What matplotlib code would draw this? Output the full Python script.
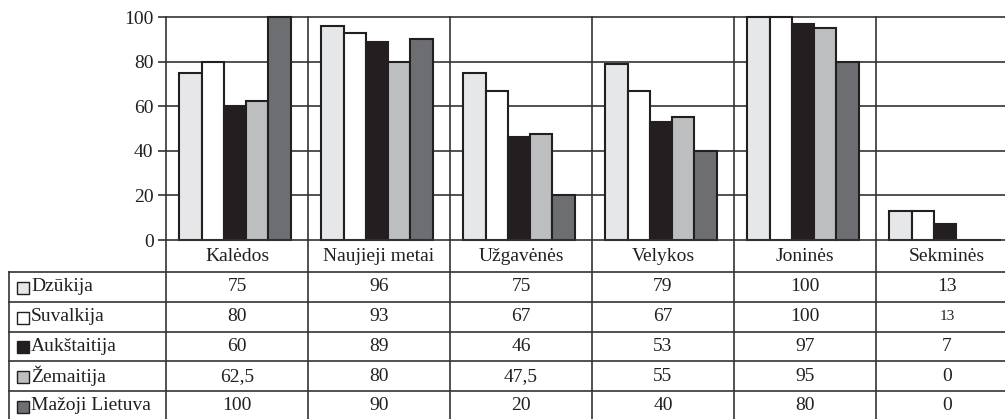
import matplotlib
matplotlib.use("Agg")
import matplotlib.pyplot as plt
from matplotlib.patches import Rectangle
import numpy as np

# ---- data ----
categories = ["Kalėdos", "Naujieji metai", "Užgavėnės", "Velykos", "Joninės", "Sekminės"]
regions = ["Dzūkija", "Suvalkija", "Aukštaitija", "Žemaitija", "Mažoji Lietuva"]
dzukija = [75, 96, 75, 79, 100, 13]
suvalkija = [80, 93, 67, 67, 100, 13]
aukstaitija = [60, 89, 46, 53, 97, 7]
zemaitija = [62.5, 80, 47.5, 55, 95, 0]
mazoji_lietuva = [100, 90, 20, 40, 80, 0]
series = [dzukija, suvalkija, aukstaitija, zemaitija, mazoji_lietuva]
yticks = [0, 20, 40, 60, 80, 100]

# ---- style ----
colors = ["#e6e7e8", "#ffffff", "#231f20", "#bcbec0", "#6d6e71"]
line_c = "#333333"
text_c = "#231f20"
FONT = "Liberation Serif"
FS = 14
plt.rcParams["font.family"] = [FONT, "DejaVu Serif"]

W, H = 1005, 419
fig = plt.figure(figsize=(W / 100, H / 100), dpi=100)

# bar axes: x 166..1018 px, y 17..240 px
ax = fig.add_axes([166 / W, 1 - 240 / H, 852 / W, 223 / H])
ax.set_xlim(-0.5, 5.5)
ax.set_ylim(0, 100)

x = np.arange(len(categories))
bw = 0.157
shift = -0.014
for j, vals in enumerate(series):
    ax.bar(x + (j - 2) * bw + shift, vals, width=bw, color=colors[j],
           edgecolor="#231f20", linewidth=1.5, zorder=3, clip_on=False)

for yv in yticks[1:]:
    ax.axhline(yv, color=line_c, lw=1.2, zorder=1, clip_on=False)
for i in range(len(categories) - 1):
    ax.axvline(i + 0.5, color=line_c, lw=1.2, zorder=1, clip_on=False)

for s in ["top", "right"]:
    ax.spines[s].set_visible(False)
ax.spines["left"].set_color(line_c)
ax.spines["left"].set_linewidth(1.2)
ax.spines["bottom"].set_color(line_c)
ax.spines["bottom"].set_linewidth(1.2)
ax.spines["bottom"].set_zorder(4)
ax.set_xticks([])
ax.set_yticks(yticks)
ax.set_yticklabels([str(v) for v in yticks], fontsize=FS, color=text_c)
ax.tick_params(axis="y", direction="out", length=6, width=1.2, color=line_c, pad=3)

# table axes: x 9..1018 px, y 240..420 px (y in pixel units)
left_px = 9
x_left = -0.5 - (166 - left_px) / 142.0
tax = fig.add_axes([left_px / W, 1 - 420 / H, (1018 - left_px) / W, 180 / H])
tax.set_xlim(x_left, 5.5)
tax.set_ylim(420, 240)
tax.axis("off")

def px2x(px):
    return x_left + (px - left_px) / 142.0

row_edges = [272, 301.7, 331.5, 361.2, 391, 420.5]

# header labels
for i, c in enumerate(categories):
    tax.text(i, 256, c, ha="center", va="center", fontsize=FS, color=text_c)

# lines
for ye in row_edges:
    tax.plot([x_left, 5.5], [ye, ye], color=line_c, lw=1.2, clip_on=False)
tax.plot([x_left, x_left], [row_edges[0], 421], color=line_c, lw=1.2, clip_on=False)
tax.plot([-0.5, -0.5], [240, 421], color=line_c, lw=1.2, clip_on=False)
for i in range(len(categories) - 1):
    tax.plot([i + 0.5, i + 0.5], [240, 421], color=line_c, lw=1.2, clip_on=False)

# rows
sq = 12
for r, (name, vals) in enumerate(zip(regions, series)):
    yc = (row_edges[r] + row_edges[r + 1]) / 2
    tax.add_patch(Rectangle((px2x(16.5), yc - sq / 2 + 1), sq / 142.0, sq,
                            facecolor=colors[r], edgecolor="#231f20", lw=1.0))
    tax.text(px2x(31), yc, name, ha="left", va="center", fontsize=FS, color=text_c)
    for i, v in enumerate(vals):
        s = (f"{v:g}").replace(".", ",")
        fs = FS
        if r == 1 and i == 5:
            fs = 11
        tax.text(i, yc, s, ha="center", va="center", fontsize=fs, color=text_c)

fig.savefig("out.png", dpi=100)
